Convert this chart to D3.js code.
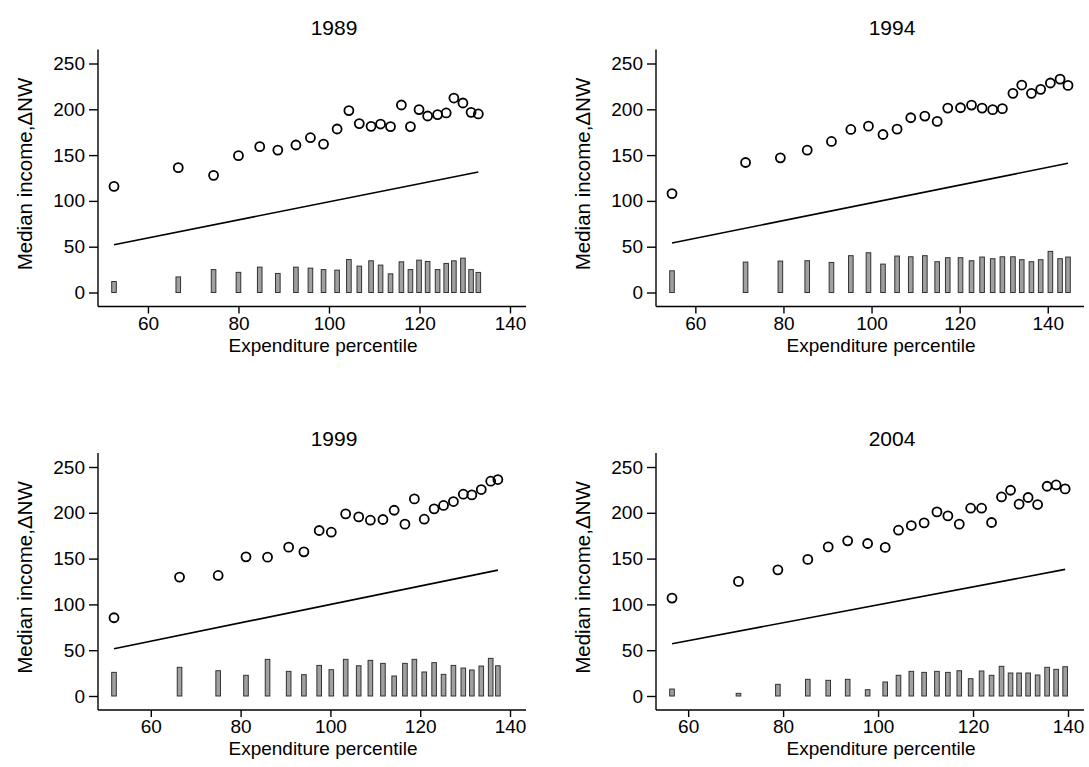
<!DOCTYPE html>
<html>
<head>
<meta charset="utf-8">
<script src="https://cdn.jsdelivr.net/npm/d3@7"></script>
<style>
  body { margin: 0; background: #fff; }
  svg { display: block; font-family: "Liberation Sans", Arial, sans-serif; }
</style>
</head>
<body>
<div id="chart"></div>
<script>
var w = 1089, h = 767;

// panel titles
var years = ['1989', '1994', '1999', '2004'];

// expenditure percentile of each group, per year
var x1989 = [52.5, 66.7, 74.5, 80.0, 84.7, 88.7, 92.7, 95.9, 98.8, 101.8, 104.4, 106.7, 109.3, 111.4, 113.6, 116.0, 118.0, 119.9, 121.8, 124.0, 125.9, 127.6, 129.6, 131.4, 133.0];
var x1994 = [54.7, 71.4, 79.3, 85.4, 90.9, 95.3, 99.3, 102.6, 105.8, 108.9, 112.1, 114.9, 117.3, 120.2, 122.7, 125.1, 127.5, 129.7, 132.1, 134.1, 136.3, 138.4, 140.6, 142.8, 144.6];
var x1999 = [51.8, 66.4, 75.0, 81.2, 86.0, 90.7, 94.1, 97.5, 100.2, 103.4, 106.3, 108.9, 111.7, 114.2, 116.6, 118.7, 120.9, 123.1, 125.2, 127.4, 129.6, 131.5, 133.6, 135.7, 137.3];
var x2004 = [56.6, 70.6, 78.9, 85.2, 89.5, 93.6, 97.8, 101.5, 104.3, 107.0, 109.7, 112.4, 114.7, 117.1, 119.5, 121.8, 123.9, 126.0, 127.9, 129.7, 131.6, 133.6, 135.6, 137.5, 139.4];

// median income (circles)
var inc1989 = [115.8, 136.3, 127.9, 149.4, 159.2, 155.5, 161, 169, 162, 178.5, 198.6, 184.4, 181.4, 183.9, 181.1, 204.7, 181.1, 199.7, 192.7, 194.2, 196, 212.3, 206.9, 196.7, 194.9];
var inc1994 = [108, 141.9, 147, 155.4, 164.9, 178, 181.6, 172.5, 178.3, 190.8, 192.6, 186.8, 201.3, 201.7, 204.6, 201.3, 199.6, 200.7, 217.4, 226.5, 217.4, 221.8, 228.7, 233, 226.1];
var inc1999 = [85.4, 129.8, 131.6, 151.9, 151.6, 162.5, 157.4, 180.7, 178.8, 198.8, 195.5, 191.9, 192.7, 202.8, 187.6, 215.2, 193, 204.3, 208, 212.3, 220.3, 219.5, 225.4, 234.5, 236.3];
var inc2004 = [106.9, 125.1, 137.7, 149.1, 162.8, 169.4, 166.5, 162.2, 181, 186.1, 189, 201, 196.6, 187.6, 205, 205, 189.4, 217.3, 224.6, 209.4, 216.7, 209, 229, 230.4, 226.1];

// change in net worth (bars)
var nw1989 = [12, 17, 25, 22, 27.7, 20.8, 27.7, 26.6, 25, 24.4, 36, 28.8, 34.6, 29.9, 20.4, 33.5, 25, 35.3, 33.9, 25, 31.7, 34.6, 37.5, 25, 21.9];
var nw1994 = [23.7, 33.2, 34.3, 34.7, 32.8, 40.2, 43.4, 31, 39.8, 39, 40.2, 33.6, 38, 38, 34.7, 38.7, 36.9, 39, 39, 35.8, 33.6, 35.8, 44.9, 36.9, 38.7];
var nw1999 = [25.8, 31.3, 27.6, 22.6, 40, 26.9, 23.3, 33.4, 28.7, 40, 33, 38.9, 35.6, 21.8, 35.6, 40, 26.2, 36.4, 23.6, 33.4, 30.5, 28.4, 32.7, 41.1, 33];
var nw2004 = [7.6, 2.9, 12.7, 18.2, 17.1, 18.2, 6.9, 15.3, 22.6, 26.9, 25.8, 26.9, 25.8, 27.6, 18.9, 27.3, 22.6, 32.4, 25.1, 25.1, 25.1, 22.9, 31.3, 29.1, 32];

// straight line: end points [x0, x1] and [y0, y1]
var lineX = [[52.5, 133.0], [54.7, 144.6], [51.8, 137.3], [56.6, 139.4]];
var lineY = [[52.2, 131.5], [54, 141.1], [51.6, 137.4], [57, 138.2]];

var xTicks = [60, 80, 100, 120, 140];
var yTicks = [0, 50, 100, 150, 200, 250];

var xs = [x1989, x1994, x1999, x2004];
var incs = [inc1989, inc1994, inc1999, inc2004];
var nws = [nw1989, nw1994, nw1999, nw2004];

// layout of the four plot regions
var pos = [{left: 98, top: 49.5, tt: -15}, {left: 656, top: 49.5, tt: -15},
           {left: 98, top: 453, tt: -7}, {left: 656, top: 453, tt: -7}];
var pw = 428, ph = 257, padX = 16, padY = 14;

const svg = d3.select('#chart')
              .append('svg')
              .attr('width', w)
              .attr('height', h)

years.forEach((yr, i) => {
  var p = pos[i];
  var g = svg.append('g').attr('transform', `translate(${p.left}, ${p.top})`);

  var xdom = [Math.min(d3.min(xs[i]), 60), Math.max(d3.max(xs[i]), 140)];
  var x = d3.scaleLinear().domain(xdom).range([padX, pw - padX]);
  var y = d3.scaleLinear().domain([0, 250]).range([ph - padY, padY]);

  var rows = xs[i].map((v, j) => ({x: v, inc: incs[i][j], nw: nws[i][j]}));

  // bars
  g.selectAll('rect.bar')
    .data(rows)
    .enter()
      .append('rect')
      .attr('class', 'bar')
      .attr('x', d => x(d.x) - 2.3)
      .attr('width', 4.6)
      .attr('y', d => y(d.nw))
      .attr('height', d => y(0) - y(d.nw))
      .attr('fill', '#a0a0a0')
      .attr('stroke', '#333')
      .attr('stroke-width', 1)

  // line
  var pts = lineX[i].map((v, j) => [v, lineY[i][j]]);
  g.append('path')
    .attr('d', d3.line().x(d => x(d[0])).y(d => y(d[1]))(pts))
    .attr('fill', 'none')
    .attr('stroke', '#000')
    .attr('stroke-width', 1.6)

  // circles
  g.selectAll('circle')
    .data(rows)
    .enter()
      .append('circle')
      .attr('cx', d => x(d.x))
      .attr('cy', d => y(d.inc))
      .attr('r', 4.5)
      .attr('fill', 'none')
      .attr('stroke', '#000')
      .attr('stroke-width', 1.8)

  // axes
  var ax = g.append('g')
    .attr('transform', `translate(0, ${ph})`)
    .call(d3.axisBottom(x).tickValues(xTicks).tickSize(7).tickSizeOuter(0).tickPadding(3))
  ax.select('.domain').attr('d', `M0,0H${pw}`);

  var ay = g.append('g')
    .call(d3.axisLeft(y).tickValues(yTicks).tickSize(9).tickSizeOuter(0).tickPadding(4))
  ay.select('.domain').attr('d', `M0,0V${ph}`);

  [ax, ay].forEach(a => {
    a.attr('font-size', 19).attr('font-family', '"Liberation Sans", Arial, sans-serif')
    a.selectAll('path, line').attr('stroke', '#000').attr('stroke-width', 1.4)
    a.selectAll('text').attr('fill', '#000')
  });

  // titles
  g.append('text')
    .attr('x', pw / 2 + 22)
    .attr('y', p.tt)
    .attr('text-anchor', 'middle')
    .style('font-size', '21px')
    .text(yr)

  g.append('text')
    .attr('x', pw / 2 + 11)
    .attr('y', ph + 45)
    .attr('text-anchor', 'middle')
    .style('font-size', '19px')
    .text('Expenditure percentile')

  g.append('text')
    .attr('transform', 'rotate(-90)')
    .attr('x', -(ph / 2) + 4)
    .attr('y', -66)
    .attr('text-anchor', 'middle')
    .style('font-size', '20.5px')
    .text('Median income,ΔNW')
});
</script>
</body>
</html>
